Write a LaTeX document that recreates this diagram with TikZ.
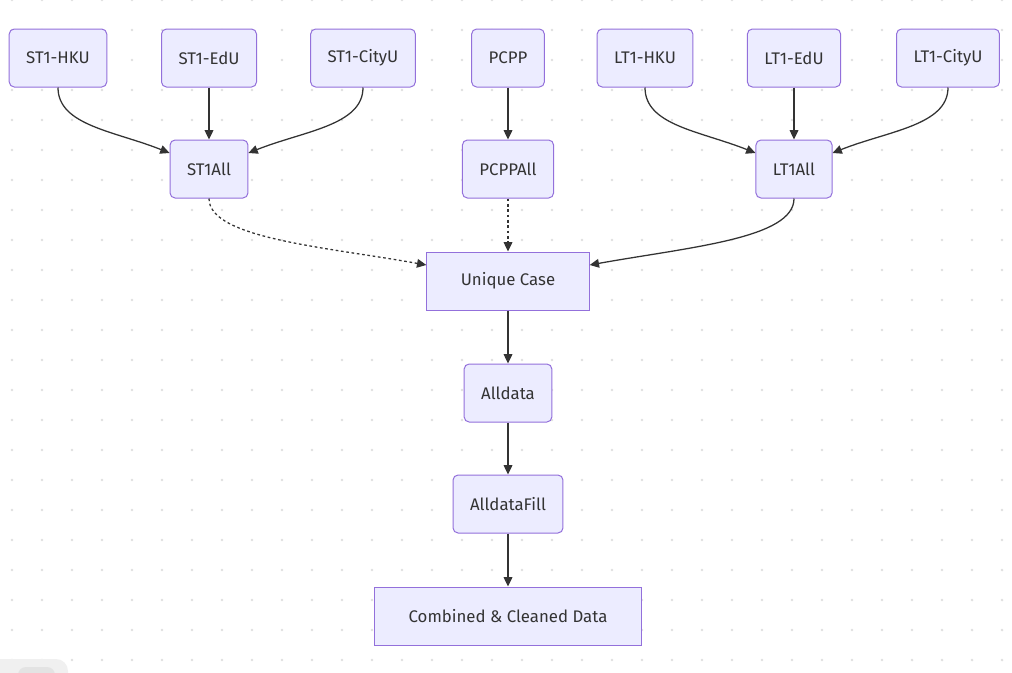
\documentclass[tikz,border=0pt]{standalone}
\usepackage{fontspec}
\setmainfont{Fira Sans}
\usetikzlibrary{arrows.meta,positioning,calc}
\definecolor{nodefill}{HTML}{ECECFF}
\definecolor{nodeborder}{HTML}{9370DB}
\definecolor{linegray}{HTML}{333333}
\definecolor{dotgray}{HTML}{E0E0E0}

\begin{document}
\begin{tikzpicture}[x=0.75pt, y=-0.75pt,
    box/.style={rectangle, draw=nodeborder, fill=nodefill, rounded corners=3.75pt,
                minimum height=43.5pt, inner xsep=12.75pt, line width=0.75pt,
                text=linegray, font=\fontsize{12.6}{14}\selectfont},
    widebox/.style={box, sharp corners, inner xsep=25.5pt},
    flow/.style={draw=linegray, line width=0.95pt, -{Triangle[length=7pt,width=6.5pt]}},
    weakflow/.style={flow, dash pattern=on 2pt off 2pt}
]

% Background
\fill[white] (0,0) rectangle (1012,672);
\useasboundingbox (0,0) rectangle (1012,672);
\foreach \i in {0,...,33}
  \foreach \j in {0,...,22}
    \fill[dotgray] (12+30*\i,30*\j) circle[radius=1.1pt];
\begin{scope}
\clip (0,0) rectangle (1012,672);
\fill[black!6, rounded corners=9pt] (-12,659) rectangle (68,690);
\fill[black!11, rounded corners=6pt] (18,667) rectangle (55,690);
\end{scope}

% Sources
\node[box] (sthku) at (58,58) {ST1-HKU};
\node[box] (stedu) at (209,58) {ST1-EdU};
\node[box] (stcityu) at (363,58) {ST1-CityU};
\node[box] (pcpp) at (508,58) {PCPP};
\node[box] (lthku) at (645,58) {LT1-HKU};
\node[box] (ltedu) at (794,58) {LT1-EdU};
\node[box] (ltcityu) at (948,58) {LT1-CityU};

% Merged per study
\node[box] (st1all) at (209,169) {ST1All};
\node[box] (pcppall) at (508,169) {PCPPAll};
\node[box] (lt1all) at (794,169) {LT1All};

% Pipeline
\node[widebox] (unique) at (508,281) {Unique Case};
\node[box] (alldata) at (508,393) {Alldata};
\node[box] (fill) at (508,504) {AlldataFill};
\node[widebox] (clean) at (508,616) {Combined \& Cleaned Data};

% Connections
\draw[flow] (sthku.south) .. controls +(0,38) and +(-55,-22) .. ([yshift=12pt]st1all.west);
\draw[flow] (stedu) -- (st1all);
\draw[flow] (stcityu.south) .. controls +(0,38) and +(55,-22) .. ([yshift=12pt]st1all.east);
\draw[flow] (pcpp) -- (pcppall);
\draw[flow] (lthku.south) .. controls +(0,38) and +(-55,-22) .. ([yshift=12pt]lt1all.west);
\draw[flow] (ltedu) -- (lt1all);
\draw[flow] (ltcityu.south) .. controls +(0,38) and +(55,-22) .. ([yshift=12pt]lt1all.east);

\draw[weakflow] (st1all.south) .. controls +(0,40) and +(-100,-18) .. ([yshift=12pt]unique.west);
\draw[weakflow] (pcppall) -- (unique);
\draw[flow] (lt1all.south) .. controls +(0,40) and +(100,-18) .. ([yshift=12pt]unique.east);

\draw[flow] (unique) -- (alldata);
\draw[flow] (alldata) -- (fill);
\draw[flow] (fill) -- (clean);

\end{tikzpicture}
\end{document}
